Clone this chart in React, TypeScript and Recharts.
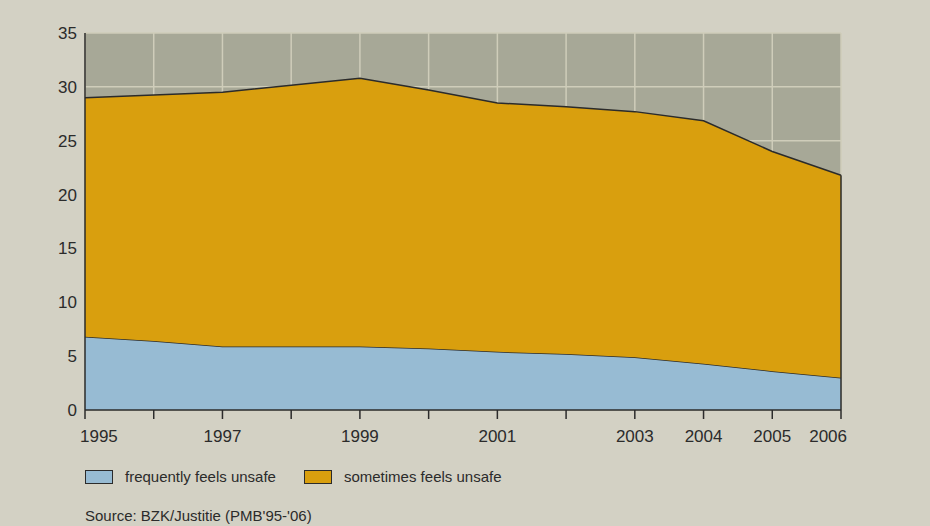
import React from "react"
import { AreaChart, Area, XAxis, YAxis, CartesianGrid, ReferenceLine } from "recharts"

const years = [1995, 1996, 1997, 1998, 1999, 2000, 2001, 2002, 2003, 2004, 2005, 2006]
const frequently = [6.8, 6.4, 5.9, 5.9, 5.9, 5.7, 5.4, 5.2, 4.9, 4.3, 3.6, 3.0]
const sometimes = [22.2, 22.85, 23.6, 24.25, 24.9, 24.0, 23.1, 22.95, 22.8, 22.55, 20.4, 18.8]
const labelYears = [1995, 1997, 1999, 2001, 2003, 2004, 2005, 2006]
const yTicks = [0, 5, 10, 15, 20, 25, 30, 35]

const BG = "#d3d1c4"
const PLOT = "#a7a897"
const GRID = "#cfcdba"
const BLUE = "#97bbd3"
const ORANGE = "#d99f0e"
const INK = "#2b2b2b"
const FONT = "'Liberation Sans', Arial, sans-serif"

const data = years.map((y, i) => ({ year: y, frequently: frequently[i], sometimes: sometimes[i] }))
const last = data.length - 1

function YearTick(props: any) {
  const { x, y, payload } = props
  const v = payload.value
  if (!labelYears.includes(v)) return null
  let anchor = "middle"
  let dx = 0
  if (v === years[0]) {
    anchor = "start"
    dx = -5
  } else if (v === years[last]) {
    anchor = "end"
    dx = 6
  }
  return (
    <text x={x + dx} y={y} dy={21} textAnchor={anchor} fill={INK} fontSize={17} fontFamily={FONT}>
      {v}
    </text>
  )
}

export default function App() {
  return (
    <div style={{ position: "absolute", left: 0, top: 0, width: 930, height: 526, background: BG, overflow: "hidden", fontFamily: FONT }}>
      <AreaChart width={930} height={526} data={data} margin={{ top: 33, right: 89, left: 0, bottom: 86 }}>
        <CartesianGrid fill={PLOT} fillOpacity={1} stroke={GRID} strokeWidth={1.5} />
        <XAxis
          dataKey="year"
          type="number"
          domain={[1995, 2006]}
          ticks={years}
          height={30}
          tickSize={9}
          axisLine={{ stroke: INK, strokeWidth: 1.5 }}
          tickLine={{ stroke: INK, strokeWidth: 1.5 }}
          tick={<YearTick />}
          interval={0}
        />
        <YAxis
          domain={[0, 35]}
          ticks={yTicks}
          width={85}
          tickLine={false}
          axisLine={{ stroke: INK, strokeWidth: 1.5 }}
          tick={{ fill: INK, fontSize: 17, fontFamily: FONT }}
          interval={0}
        />
        <Area
          type="linear"
          dataKey="frequently"
          stackId="a"
          fill={BLUE}
          fillOpacity={1}
          stroke={INK}
          strokeWidth={1.5}
          isAnimationActive={false}
        />
        <Area
          type="linear"
          dataKey="sometimes"
          stackId="a"
          fill={ORANGE}
          fillOpacity={1}
          stroke={INK}
          strokeWidth={1.5}
          isAnimationActive={false}
        />
        <ReferenceLine
          segment={[
            { x: years[last], y: 0 },
            { x: years[last], y: frequently[last] + sometimes[last] },
          ]}
          stroke={INK}
          strokeWidth={1.5}
        />
      </AreaChart>
      <div style={{ position: "absolute", left: 85, top: 468, display: "flex", alignItems: "center", fontSize: 15, color: INK }}>
        <span style={{ width: 26, height: 12, background: BLUE, border: `1px solid ${INK}`, display: "inline-block" }} />
        <span style={{ marginLeft: 12 }}>frequently feels unsafe</span>
        <span style={{ width: 26, height: 12, background: ORANGE, border: `1px solid ${INK}`, display: "inline-block", marginLeft: 28 }} />
        <span style={{ marginLeft: 12 }}>sometimes feels unsafe</span>
      </div>
      <div style={{ position: "absolute", left: 85, top: 507, fontSize: 15, lineHeight: "17px", color: INK, whiteSpace: "nowrap" }}>
        Source: BZK/Justitie (PMB'95-'06)
      </div>
    </div>
  )
}
